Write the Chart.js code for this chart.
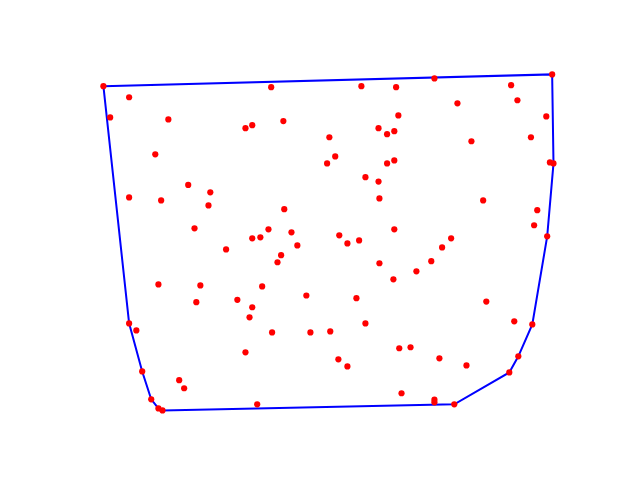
<!DOCTYPE html>
<html>
<head>
<meta charset="utf-8">
<script src="https://cdn.jsdelivr.net/npm/chart.js@4/dist/chart.umd.min.js"></script>
<style>
  html, body { margin: 0; padding: 0; background: #ffffff; }
  #wrap { width: 640px; height: 480px; }
</style>
</head>
<body>
<div id="wrap"><canvas id="c" width="640" height="480"></canvas></div>
<script>
// Point coordinates (data units, roughly 0..1)
const xs = [0.002,0.059,0.017,0.146,0.317,0.332,0.117,0.190,0.374,0.574,
            0.651,0.401,0.656,0.612,0.631,0.647,0.503,0.516,0.498,0.631,
            0.647,0.583,0.612,0.736,0.997,0.906,0.920,0.787,0.984,0.950,
            0.818,0.992,1.000,0.239,0.059,0.130,0.235,0.204,0.332,0.274,
            0.124,0.217,0.299,0.614,0.403,0.368,0.419,0.350,0.525,0.543,
            0.569,0.647,0.432,0.396,0.388,0.614,0.645,0.354,0.452,0.563,
            0.844,0.964,0.957,0.986,0.773,0.753,0.729,0.696,0.851,0.208,
            0.332,0.326,0.059,0.075,0.317,0.088,0.170,0.181,0.108,0.124,
            0.133,0.376,0.461,0.505,0.583,0.658,0.683,0.523,0.543,0.663,
            0.343,0.913,0.953,0.747,0.807,0.922,0.902,0.736,0.736,0.780];
const ys = [0.965,0.932,0.872,0.866,0.840,0.849,0.762,0.671,0.962,0.965,
            0.962,0.861,0.878,0.840,0.822,0.831,0.813,0.756,0.735,0.735,
            0.744,0.694,0.681,0.988,1.000,0.968,0.923,0.914,0.875,0.813,
            0.801,0.738,0.735,0.649,0.634,0.625,0.610,0.542,0.512,0.479,
            0.375,0.372,0.329,0.631,0.599,0.539,0.530,0.515,0.521,0.497,
            0.506,0.539,0.491,0.462,0.441,0.438,0.390,0.369,0.342,0.334,
            0.625,0.596,0.551,0.518,0.512,0.485,0.444,0.414,0.324,0.322,
            0.307,0.277,0.259,0.238,0.173,0.116,0.090,0.066,0.033,0.006,
            0.000,0.232,0.232,0.235,0.259,0.185,0.188,0.152,0.131,0.051,
            0.018,0.265,0.256,0.155,0.134,0.161,0.113,0.032,0.024,0.018];
// Convex hull vertex indices (into xs / ys), closed loop
const hullIdx = [0, 24, 32, 63, 92, 95, 96, 99, 80, 79, 78, 75, 72, 0];

const points = xs.map((x, i) => ({ x: x, y: ys[i] }));
const hull = hullIdx.map(i => ({ x: xs[i], y: ys[i] }));

new Chart(document.getElementById('c'), {
  type: 'scatter',
  data: {
    datasets: [
      {
        label: 'points',
        data: points,
        order: 0,
        backgroundColor: '#ff0000',
        borderColor: '#ff0000',
        borderWidth: 0,
        pointRadius: 3.1,
        pointHoverRadius: 3.1
      },
      {
        label: 'hull',
        data: hull,
        order: 1,
        showLine: true,
        borderColor: '#0000ff',
        borderWidth: 2,
        pointRadius: 0,
        pointHoverRadius: 0,
        fill: false,
        tension: 0
      }
    ]
  },
  options: {
    responsive: false,
    animation: false,
    devicePixelRatio: 1,
    layout: { padding: 0, autoPadding: false },
    plugins: { legend: { display: false }, tooltip: { enabled: false } },
    scales: {
      x: { type: 'linear', display: false, min: -0.2273, max: 1.1918 },
      y: { type: 'linear', display: false, min: -0.2071, max: 1.2214 }
    }
  }
});
</script>
</body>
</html>
